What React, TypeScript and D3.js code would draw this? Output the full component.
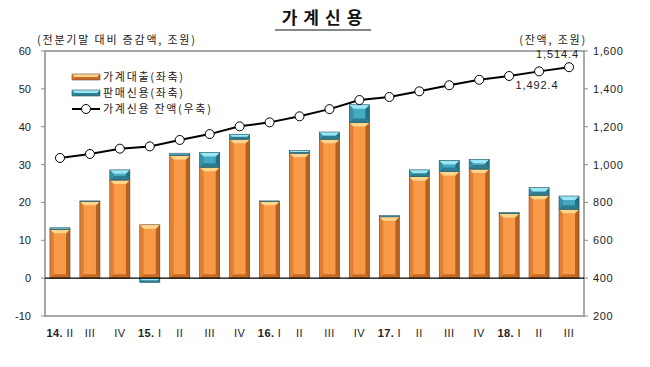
import * as d3 from 'd3';

const categories = ['14.|II', 'III', 'IV', '15.|I', 'II', 'III', 'IV', '16.|I', 'II', 'III', 'IV', '17.|I', 'II', 'III', 'IV', '18.|I', 'II', 'III'];
const loans = [12.9, 20.3, 25.9, 14.1, 32.4, 29.3, 36.7, 20.3, 33.0, 36.7, 41.1, 16.2, 26.8, 28.2, 28.8, 17.1, 21.9, 18.2];
const salesCredit = [0.4, 0.1, 2.7, -1.1, 0.6, 3.9, 1.3, 0.1, 0.7, 1.9, 4.7, 0.3, 1.8, 2.9, 2.6, 0.2, 2.0, 3.5];
const balance = [1035, 1056, 1084, 1096, 1130, 1161, 1202, 1223, 1255, 1293, 1341, 1357, 1387, 1419, 1448, 1468, 1492.4, 1514.4];
const leftTicks = [-10, 0, 10, 20, 30, 40, 50, 60];
const rightTicks = [200, 400, 600, 800, 1000, 1200, 1400, 1600];
const legendItems = ['가계대출(좌축)', '판매신용(좌축)', '가계신용 잔액(우축)'];

const W = 650;
const H = 367;
const plot = { left: 45, right: 584, top: 51, bottom: 316 };
const font = 'Arial, "Liberation Sans", "Noto Sans CJK KR", sans-serif';
const krFont = '"Noto Sans CJK KR", sans-serif';

const orange = { mid: '#F99A48', top: '#FFD68C', left: '#E07F33', right: '#B5611F', bottom: '#C86C25', line: '#6E4A2E' };
const blue = { mid: '#45A9C2', top: '#9BE6F5', left: '#3590A8', right: '#246F84', bottom: '#2C7D92', line: '#2B5561' };

type Pal = typeof orange;

function BevelBar({ x, y, w, h, pal }: { x: number; y: number; w: number; h: number; pal: Pal }) {
  if (h <= 0) return null;
  const b = Math.min(4, h / 2);
  const pts = (arr: number[][]) => arr.map(p => p.join(',')).join(' ');
  return (
    <g>
      <rect x={x} y={y} width={w} height={h} fill={pal.mid} />
      <polygon points={pts([[x, y], [x + b, y + b], [x + b, y + h - b], [x, y + h]])} fill={pal.left} />
      <polygon points={pts([[x + w, y], [x + w - b, y + b], [x + w - b, y + h - b], [x + w, y + h]])} fill={pal.right} />
      <polygon points={pts([[x, y + h], [x + b, y + h - b], [x + w - b, y + h - b], [x + w, y + h]])} fill={pal.bottom} />
      <polygon points={pts([[x, y], [x + w, y], [x + w - b, y + b], [x + b, y + b]])} fill={pal.top} />
      <rect x={x} y={y} width={w} height={h} fill="none" stroke={pal.line} strokeWidth={0.6} />
    </g>
  );
}

export default function App() {
  const x = d3.scaleBand<number>().domain(d3.range(categories.length)).range([plot.left, plot.right]).paddingInner(0.33).paddingOuter(0.165);
  const yL = d3.scaleLinear().domain([-10, 60]).range([plot.bottom, plot.top]);
  const yR = d3.scaleLinear().domain([200, 1600]).range([plot.bottom, plot.top]);
  const cx = (i: number) => (x(i) ?? 0) + x.bandwidth() / 2;
  const line = d3.line<number>().x((_, i) => cx(i)).y(d => yR(d));
  const bw = x.bandwidth();

  return (
    <div style={{ position: 'fixed', left: 0, top: 0 }}>
      <svg width={W} height={H} style={{ display: 'block', background: '#fff' }}>
        <text x={325} y={24} textAnchor="middle" fontFamily={krFont} fontWeight="bold" fontSize={17} letterSpacing={6} fill="#111">가계신용</text>
        <line x1={275} x2={371} y1={30} y2={30} stroke="#111" strokeWidth={1.2} />

        <text x={37} y={44} fontFamily={krFont} fontSize={11} letterSpacing={1.8} fill="#222">(전분기말 대비 증감액, 조원)</text>
        <text x={587} y={44} textAnchor="end" fontFamily={krFont} fontSize={11} letterSpacing={1.8} fill="#222">(잔액, 조원)</text>

        <rect x={plot.left} y={plot.top} width={plot.right - plot.left} height={plot.bottom - plot.top} fill="none" stroke="#8c8c8c" strokeWidth={1.5} />

        {leftTicks.map(t => (
          <g key={'l' + t}>
            <line x1={plot.left - 4} x2={plot.left} y1={yL(t)} y2={yL(t)} stroke="#8c8c8c" />
            <text x={31} y={yL(t) + 4} textAnchor="end" fontFamily={font} fontSize={11} fill="#222">{t}</text>
          </g>
        ))}
        {rightTicks.map(t => (
          <g key={'r' + t}>
            <line x1={plot.right} x2={plot.right + 4} y1={yR(t)} y2={yR(t)} stroke="#8c8c8c" />
            <text x={593} y={yR(t) + 4} fontFamily={font} fontSize={11} letterSpacing={0.6} fill="#222">{d3.format(',')(t)}</text>
          </g>
        ))}

        {loans.map((v, i) => {
          const x0 = x(i) ?? 0;
          const c = salesCredit[i];
          return (
            <g key={'b' + i}>
              <BevelBar x={x0} y={yL(v)} w={bw} h={yL(0) - yL(v)} pal={orange} />
              {c >= 0 ? (
                <BevelBar x={x0} y={yL(v + c)} w={bw} h={yL(v) - yL(v + c)} pal={blue} />
              ) : (
                <BevelBar x={x0} y={yL(0)} w={bw} h={yL(c) - yL(0)} pal={blue} />
              )}
            </g>
          );
        })}

        <line x1={plot.left} x2={plot.right} y1={yL(0)} y2={yL(0)} stroke="#000" strokeWidth={1.2} />

        <path d={line(balance) ?? ''} fill="none" stroke="#000" strokeWidth={2} />
        {balance.map((v, i) => (
          <circle key={'p' + i} cx={cx(i)} cy={yR(v)} r={4.5} fill="#fff" stroke="#000" strokeWidth={1} />
        ))}
        <text x={cx(17) + 10} y={yR(balance[17]) - 9} textAnchor="end" fontFamily={font} fontSize={11} letterSpacing={0.9} fill="#222">{d3.format(',.1f')(balance[17])}</text>
        <text x={cx(16) - 2} y={yR(balance[16]) + 18} textAnchor="middle" fontFamily={font} fontSize={11} letterSpacing={0.9} fill="#222">{d3.format(',.1f')(balance[16])}</text>

        {categories.map((c, i) => {
          const parts = c.split('|');
          return (
            <text key={'x' + i} x={cx(i)} y={337} textAnchor="middle" fontFamily={font} fontSize={11} letterSpacing={0.4} fill="#222">
              {parts.length > 1 ? (
                <>
                  <tspan fontWeight="bold">{parts[0]}</tspan>
                  <tspan> {parts[1]}</tspan>
                </>
              ) : (
                c
              )}
            </text>
          );
        })}

        {legendItems.map((label, i) => {
          const ly = 77 + i * 16;
          return (
            <g key={'lg' + i}>
              {i < 2 ? (
                <BevelBar x={72} y={ly - 3} w={28} h={6} pal={i === 0 ? orange : blue} />
              ) : (
                <g>
                  <line x1={72} x2={100} y1={ly} y2={ly} stroke="#000" strokeWidth={2} />
                  <circle cx={86} cy={ly} r={4.5} fill="#fff" stroke="#000" />
                </g>
              )}
              <text x={103} y={ly + 4} fontFamily={krFont} fontSize={11} letterSpacing={1.7} fill="#222">{label}</text>
            </g>
          );
        })}
      </svg>
    </div>
  );
}
